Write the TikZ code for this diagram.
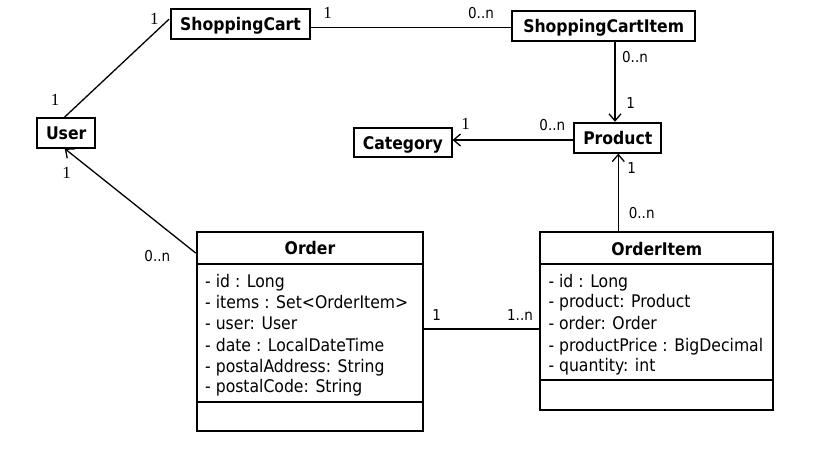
\documentclass[tikz,border=0pt]{standalone}
\usepackage{fontspec}
\setmainfont{DejaVu Sans Condensed}
\newfontfamily\multserif{Liberation Serif}
\usetikzlibrary{calc,arrows.meta}
\begin{document}
\begin{tikzpicture}[x=1pt,y=-1pt,
  box/.style={draw,line width=1.8pt,inner sep=0pt,text height=12.7pt,text depth=0pt,font=\bfseries\fontsize{17.4}{20}\selectfont},
  cls/.style={draw,line width=1.8pt,inner sep=0pt},
  hdr/.style={inner sep=0pt,text height=12.7pt,text depth=0pt,font=\bfseries\fontsize{17.4}{20}\selectfont},
  attr/.style={anchor=west,inner sep=0pt,text height=12.7pt,text depth=0pt,font=\fontsize{17.4}{21}\selectfont},
  mult/.style={inner sep=0pt,text height=10.9pt,text depth=0pt,font=\fontsize{15}{17}\selectfont},
  smult/.style={inner sep=0pt,text height=11.5pt,text depth=0pt,font=\multserif\fontsize{17}{19}\selectfont},
  conn/.style={line width=1.3pt},
  arr/.style={conn,-{Straight Barb[length=7pt,width=12pt,line width=1.3pt]}}
]
\useasboundingbox (0,0) rectangle (839,450);

% simple boxes
\node[box,minimum width=139pt,minimum height=29.7pt] (cart) at (240.5,24.2) {ShoppingCart};
\node[box,minimum width=183.3pt,minimum height=29.7pt] (item) at (603.7,25.8) {ShoppingCartItem};
\node[box,minimum width=57.7pt,minimum height=29.4pt] (user) at (66.2,133) {User};
\node[box,minimum width=97.7pt,minimum height=29pt] (category) at (402.8,142.8) {Category};
\node[box,minimum width=87pt,minimum height=30pt] (product) at (617.8,137.7) {Product};

% Order class
\node[cls,minimum width=226.6pt,minimum height=199pt] (order) at (310,331.5) {};
\draw[line width=1.8pt] (order.west |- 0,264.3) -- (order.east |- 0,264.3);
\draw[line width=1.8pt] (order.west |- 0,401.7) -- (order.east |- 0,401.7);
\node[hdr] (orderhdr) at (310,248.3) {Order};
\node[attr] (o1) at (205,281) {- id : Long};
\node[attr] (o2) at (205,301.7) {- items : Set<OrderItem>};
\node[attr] (o3) at (205,322.7) {- user: User};
\node[attr] (o4) at (205,345) {- date : LocalDateTime};
\node[attr] (o5) at (205,365.7) {- postalAddress: String};
\node[attr] (o6) at (205,386) {- postalCode: String};

% OrderItem class
\node[cls,minimum width=233.3pt,minimum height=178.3pt] (oitem) at (656.7,321) {};
\draw[line width=1.8pt] (oitem.west |- 0,264.3) -- (oitem.east |- 0,264.3);
\draw[line width=1.8pt] (oitem.west |- 0,380) -- (oitem.east |- 0,380);
\node[hdr] (oitemhdr) at (656.7,249) {OrderItem};
\node[attr] (i1) at (548.3,281) {- id : Long};
\node[attr] (i2) at (548.3,301) {- product: Product};
\node[attr] (i3) at (548.3,322.7) {- order: Order};
\node[attr] (i4) at (548.3,345) {- productPrice : BigDecimal};
\node[attr] (i5) at (548.3,365) {- quantity: int};

% connectors
\draw[conn] ($(user.north)+(-1.9,0)$) -- ($(cart.north west)+(-1,10.7)$);
\draw[conn] (cart.east |- 0,27.7) -- (item.west |- 0,27.7);
\draw[arr] (item.south -| 615,0) -- (product.north -| 615,0);
\draw[arr] (product.west |- 0,140) -- (category.east |- 0,140);
\draw[arr] (oitem.north -| 618.3,0) -- (product.south -| 618.3,0);
\draw[arr] ($(order.north west)+(0,22)$) -- ($(user.south)+(-1.5,0)$);
\draw[conn] (order.east |- 0,329) -- (oitem.west |- 0,329);

% multiplicities
\node[smult] (m1) at (154.3,18.3) {1};
\node[smult] (m2) at (327.7,12.7) {1};
\node[mult] (m3) at (481,13.3) {0..n};
\node[smult] (m4) at (55,99.3) {1};
\node[smult] (m5) at (66.7,172.7) {1};
\node[mult] (m6) at (635,57.3) {0..n};
\node[mult] (m7) at (630.7,102.7) {1};
\node[smult] (m8) at (465.7,124) {1};
\node[mult] (m9) at (552.3,125) {0..n};
\node[mult] (m10) at (631.7,167.7) {1};
\node[mult] (m11) at (641.7,212.7) {0..n};
\node[mult] (m12) at (157.3,255.7) {0..n};
\node[mult] (m13) at (436.7,315) {1};
\node[mult] (m14) at (520,315) {1..n};
\end{tikzpicture}
\end{document}
